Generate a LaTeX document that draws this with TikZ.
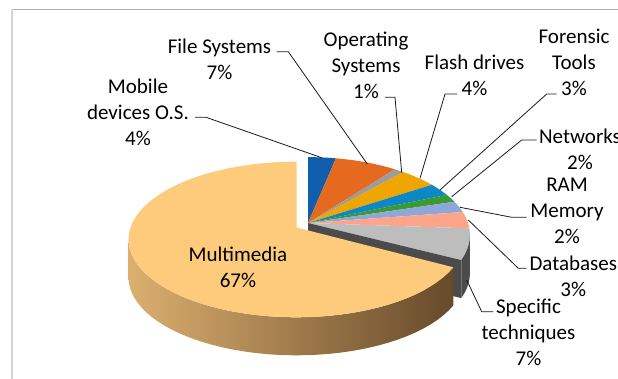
\documentclass[tikz,border=0pt]{standalone}
\usepackage{fontspec}
\setmainfont{Carlito}
\usepackage{tikz}
\usetikzlibrary{positioning}
\definecolor{mobBlue}{HTML}{105EAC}
\definecolor{fileOrange}{HTML}{E56A1F}
\definecolor{osGray}{HTML}{9C9C9C}
\definecolor{flashGold}{HTML}{F0A602}
\definecolor{foreBlue}{HTML}{0E87C5}
\definecolor{netGreen}{HTML}{3A9B34}
\definecolor{ramLav}{HTML}{8FA6D8}
\definecolor{dbSalmon}{HTML}{FDA58A}
\definecolor{specGray}{HTML}{BDBDBD}
\definecolor{specWall}{HTML}{4B4B4B}
\definecolor{mediaTop}{HTML}{FDCB7B}
\definecolor{mediaLight}{HTML}{DCAF6F}
\definecolor{mediaMid}{HTML}{A47F4B}
\definecolor{mediaDark}{HTML}{664A2A}
\definecolor{frameGray}{HTML}{B0B0B0}
\definecolor{leadInk}{HTML}{1A1A1A}
% rim of the tilted pie, angle clockwise from the top
\pgfmathdeclarefunction{rimx}{2}{\pgfmathparse{#2*sin(#1)/(1+0.154*cos(#1))}}
\pgfmathdeclarefunction{rimy}{1}{\pgfmathparse{-76*cos(#1)/(1+0.154*cos(#1))}}

\begin{document}
\begin{tikzpicture}[
          x=1pt, y=-1pt,
          lbl/.style={font=\fontsize{21}{26}\selectfont, align=center, inner sep=0pt, text=black},
          lead/.style={draw=leadInk, line width=0.8pt},
          frameline/.style={draw=frameGray, line width=1.1pt}
        ]
        \useasboundingbox (0,0) rectangle (618,379);
        \draw[frameline] (12,9.5) -- (640,9.5);
        \draw[frameline, draw=frameGray!55] (12,9.5) -- (12,400);
        \coordinate (hub) at (308,223);
        \coordinate (hubM) at (296.5,227.5);
        % small slices
        \foreach \from/\to/\col in {0/11.6/mobBlue, 11.6/37.6/fileOrange, 37.6/41.6/osGray, 41.6/57/flashGold, 57/66.9/foreBlue, 66.9/73/netGreen, 73/81.5/ramLav, 81.5/94/dbSalmon, 94/117/specGray}
          \fill[\col] (hub) -- plot[domain=\from:\to, samples=15] ({308+rimx(\x,160)},{223+rimy(\x)}) -- cycle;
        % sides of Specific techniques
        \fill[specWall] (hub) -- ({308+rimx(117,160)},{223+rimy(117)}) -- ++(0,38) -- (308,261) -- cycle;
        \fill[specWall] plot[domain=98.86:117, samples=10] ({308+rimx(\x,160)},{223+rimy(\x)})
          -- plot[domain=117:98.86, samples=10] ({308+rimx(\x,160)},{261+rimy(\x)}) -- cycle;
        % Multimedia, pulled out
        \shade[left color=mediaLight, middle color=mediaMid, right color=mediaDark]
          plot[domain=261.14:119, samples=40] ({296.5+rimx(\x,166)},{227.5+rimy(\x)})
          -- plot[domain=119:261.14, samples=40] ({296.5+rimx(\x,166)},{265.5+rimy(\x)}) -- cycle;
        \fill[mediaTop] (hubM) -- plot[domain=119:360, samples=60] ({296.5+rimx(\x,166)},{227.5+rimy(\x)}) -- cycle;
        % labels
        \node[lbl] (media) at (238,267) {Multimedia\\67\%};
        \node[lbl] (mobile) at (138,112) {Mobile\\devices O.S.\\4\%};
        \node[lbl] (files) at (219.5,59) {File Systems\\7\%};
        \node[lbl] (opsys) at (366,65) {Operating\\Systems\\1\%};
        \node[lbl] (flash) at (474.5,75) {Flash drives\\4\%};
        \node[lbl] (forensic) at (574,62) {Forensic\\Tools\\3\%};
        \node[lbl] (networks) at (580,149) {Networks\\2\%};
        \node[lbl] (ram) at (567,211) {RAM\\Memory\\2\%};
        \node[lbl] (databases) at (573.3,276.5) {Databases\\3\%};
        \node[lbl] (specific) at (528.5,332.5) {Specific\\techniques\\7\%};
        % leader lines
        \coordinate (tMobile) at (195,117.3);   \coordinate (kMobile) at (206,117.3);   \coordinate (sMobile) at (321.7,157.7);
        \coordinate (tFiles) at (276.7,51.7);   \coordinate (kFiles) at (288.3,51.7);   \coordinate (sFiles) at (367.3,164);
        \coordinate (tOpsys) at (385,97.3);     \coordinate (kOpsys) at (395,97.3);     \coordinate (sOpsys) at (401.7,172.7);
        \coordinate (tFlash) at (457.3,94);     \coordinate (kFlash) at (445,94);       \coordinate (sFlash) at (420,178.3);
        \coordinate (tForensic) at (556.7,94);  \coordinate (kForensic) at (546.7,94);  \coordinate (sForensic) at (440,190);
        \coordinate (tNetworks) at (536.7,140); \coordinate (kNetworks) at (521.7,140); \coordinate (sNetworks) at (451.7,196.7);
        \coordinate (tRam) at (526.7,217.3);    \coordinate (kRam) at (511.7,217.3);    \coordinate (sRam) at (460,207.3);
        \coordinate (tData) at (526.7,268.3);   \coordinate (kData) at (518.3,268.3);   \coordinate (sData) at (468.3,220);
        \coordinate (tSpec) at (493.3,311.7);   \coordinate (kSpec) at (481.7,311.7);   \coordinate (sSpec) at (466.7,280);
        \foreach \n in {Mobile, Files, Opsys, Flash, Forensic, Networks, Ram, Data, Spec}
          \draw[lead] (t\n) -- (k\n) -- (s\n);
      \end{tikzpicture}
\end{document}
